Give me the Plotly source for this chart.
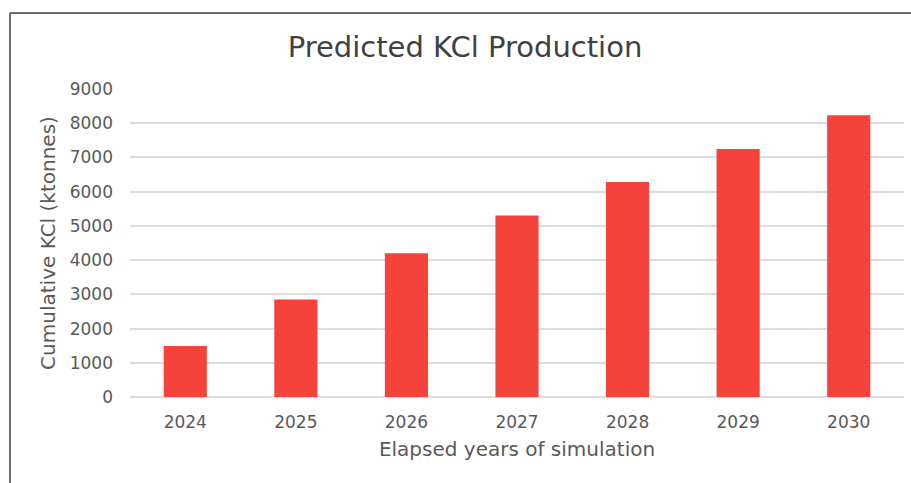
import plotly.graph_objects as go

# Cumulative KCl production by simulation year (ktonnes)
years = ["2024", "2025", "2026", "2027", "2028", "2029", "2030"]
cumulative_kcl = [1490, 2850, 4200, 5300, 6280, 7250, 8230]
y_ticks = [0, 1000, 2000, 3000, 4000, 5000, 6000, 7000, 8000, 9000]

W, H = 911, 483
M_L, M_R, M_T, M_B = 130, 7, 89, 86
FONT = "DejaVu Sans"

fig = go.Figure(
    go.Bar(
        x=years,
        y=cumulative_kcl,
        marker=dict(color="#f5423a", line=dict(width=0)),
    )
)

# convert a pixel position on the page to paper coordinates
def px_to_paper_x(px):
    return (px - M_L) / (W - M_L - M_R)

def px_to_paper_y(py):
    return (H - M_B - py) / (H - M_T - M_B)

fig.update_layout(
    width=W,
    height=H,
    margin=dict(l=M_L, r=M_R, t=M_T, b=M_B, pad=0),
    paper_bgcolor="white",
    plot_bgcolor="white",
    bargap=0.61,
    showlegend=False,
    title=dict(
        text="Predicted KCl Production",
        x=px_to_paper_x(465),
        xref="paper",
        xanchor="center",
        y=1 - 47 / H,
        yanchor="middle",
        font=dict(family=FONT, size=29, color="#404040"),
    ),
    font=dict(family=FONT, color="#595959"),
)

fig.update_xaxes(
    type="category",
    showline=False,
    ticks="",
    ticklabelstandoff=13,
    tickfont=dict(family=FONT, size=17, color="#595959"),
    title=dict(
        text="Elapsed years of simulation",
        font=dict(family=FONT, size=20, color="#595959"),
        standoff=10,
    ),
)

fig.update_yaxes(
    range=[0, 9000],
    tickvals=y_ticks,
    ticktext=[str(v) for v in y_ticks],
    showgrid=True,
    gridcolor="#dcdcdc",
    gridwidth=1.5,
    zeroline=True,
    zerolinecolor="#dcdcdc",
    zerolinewidth=1.5,
    showline=False,
    ticks="",
    ticklabelstandoff=16,
    tickfont=dict(family=FONT, size=17, color="#595959"),
    title=dict(
        text="Cumulative KCl (ktonnes)",
        font=dict(family=FONT, size=20, color="#595959"),
        standoff=8,
    ),
)

# frame lines along the top and left edges of the chart
fig.add_shape(
    type="line", xref="paper", yref="paper",
    x0=px_to_paper_x(10), x1=px_to_paper_x(W + 5),
    y0=px_to_paper_y(13), y1=px_to_paper_y(13),
    line=dict(color="#3a3a3a", width=1.5),
)
fig.add_shape(
    type="line", xref="paper", yref="paper",
    x0=px_to_paper_x(10), x1=px_to_paper_x(10),
    y0=px_to_paper_y(13), y1=px_to_paper_y(H + 5),
    line=dict(color="#3a3a3a", width=1.5),
)

fig.write_html("out.html")
